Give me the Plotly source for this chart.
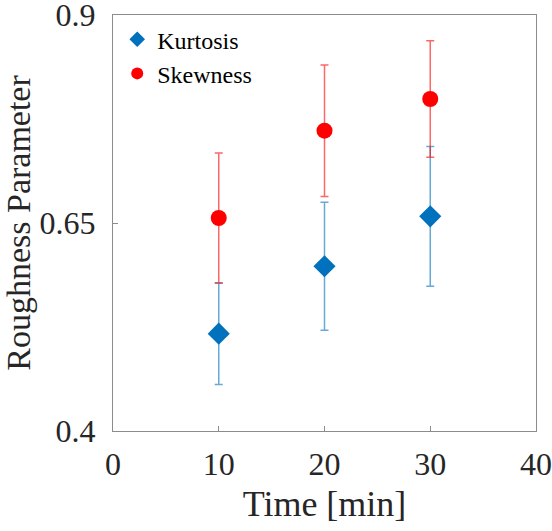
import plotly.graph_objects as go

time = [10, 20, 30]
kurtosis = [0.517, 0.598, 0.658]
kurtosis_err = [0.061, 0.077, 0.084]
skewness = [0.656, 0.761, 0.799]
skewness_err = [0.078, 0.079, 0.070]

x_ticks = [0, 10, 20, 30, 40]
y_ticks = [0.4, 0.65, 0.9]

font_family = "Liberation Serif"

fig = go.Figure()
fig.add_trace(go.Scatter(
    x=time, y=kurtosis, name="Kurtosis", mode="markers",
    marker=dict(symbol="diamond", size=17, color="#0072BD"),
    error_y=dict(type="data", array=kurtosis_err, color="rgba(0,114,189,0.6)", thickness=1.5, width=4),
))
fig.add_trace(go.Scatter(
    x=time, y=skewness, name="Skewness", mode="markers",
    marker=dict(symbol="circle", size=16, color="#FF0000"),
    error_y=dict(type="data", array=skewness_err, color="rgba(255,0,0,0.6)", thickness=1.5, width=4),
))

axis_common = dict(
    showgrid=False, zeroline=False, showline=True, linecolor="#8c8c8c", linewidth=1,
    mirror=True, ticks="inside", ticklen=5, tickcolor="#8c8c8c", automargin=False,
    ticklabeloverflow="allow",
    tickfont=dict(family=font_family, size=32, color="#262626"),
)
fig.update_layout(
    width=552, height=531,
    font=dict(family=font_family, size=24, color="#262626"),
    margin=dict(l=113, r=16, t=15, b=100, autoexpand=False),
    paper_bgcolor="white", plot_bgcolor="white",
    showlegend=True,
    legend=dict(x=0.01, y=0.995, xanchor="left", yanchor="top",
                font=dict(family=font_family, size=24, color="#000000"),
                bgcolor="rgba(0,0,0,0)", tracegroupgap=0, itemsizing="constant", itemwidth=30),
    xaxis=dict(range=[0, 40], tickvals=x_ticks, ticktext=[str(v) for v in x_ticks], ticklabelstandoff=5,
               title=dict(text="Time [min]", font=dict(family=font_family, size=36, color="#262626"), standoff=9),
               **axis_common),
    yaxis=dict(range=[0.4, 0.9], tickvals=y_ticks, ticktext=["0.4", "0.65", "0.9"], ticklabelstandoff=10,
               title=dict(text="Roughness Parameter", font=dict(family=font_family, size=34, color="#262626"), standoff=12),
               **axis_common),
)
fig.write_html("out.html", config={"displayModeBar": False},
               post_script="document.body.style.margin='0';")
